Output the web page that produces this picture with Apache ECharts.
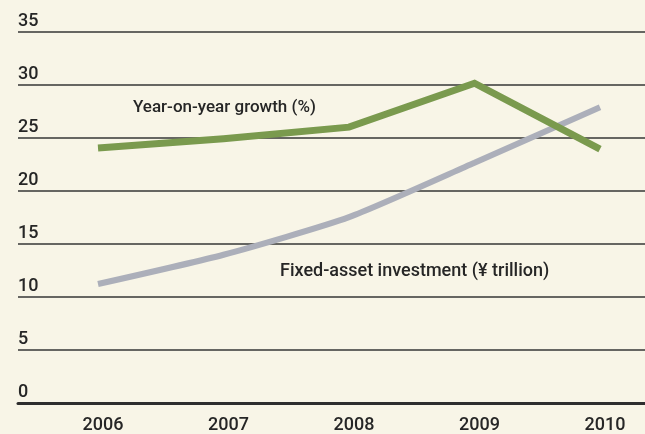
<!DOCTYPE html>
<html>
<head>
<meta charset="utf-8">
<script src="https://cdn.jsdelivr.net/npm/echarts@6/dist/echarts.min.js"></script>
<style>
  html, body { margin: 0; padding: 0; background: #f8f5e7; }
  #chart { width: 645px; height: 434px; }
</style>
</head>
<body>
<div id="chart"></div>
<script>
// Years on the horizontal axis
const years = ['2006', '2007', '2008', '2009', '2010'];
// Year-on-year growth of fixed-asset investment, %
const growthPct = [23.9, 24.8, 25.9, 30.1, 23.8];
// Fixed-asset investment, ¥ trillion
const investment = [10.9, 13.7, 17.3, 22.5, 27.8];
// Value axis ticks
const yMin = 0, yMax = 35, yStep = 5;

const FONT = 'Roboto, "Liberation Sans Narrow", sans-serif';
const TEXT = '#262626';

const chart = echarts.init(document.getElementById('chart'));
chart.setOption({
  backgroundColor: '#f8f5e7',
  animation: false,
  grid: [
    // full-width rules and value labels
    { left: 18, right: 0, top: 32, bottom: 31 },
    // plotting band for the two lines
    { left: 98, right: 45, top: 32, bottom: 31 }
  ],
  xAxis: [
    {
      gridIndex: 0, type: 'category', data: years, boundaryGap: false,
      axisLine: { show: true, lineStyle: { color: '#2e2e2e', width: 3 } },
      axisTick: { show: false }, axisLabel: { show: false }, splitLine: { show: false }
    },
    {
      gridIndex: 1, type: 'category', data: years, boundaryGap: false,
      axisLine: { show: false }, axisTick: { show: false }, splitLine: { show: false },
      axisLabel: {
        margin: 18, color: TEXT, fontFamily: FONT, fontSize: 18, fontWeight: 500,
        padding: [0, 0, 0, 10]
      }
    }
  ],
  yAxis: [
    {
      gridIndex: 0, type: 'value', min: yMin, max: yMax, interval: yStep,
      axisLine: { show: false }, axisTick: { show: false },
      splitLine: { show: true, lineStyle: { color: '#363636', width: 1.6 } },
      axisLabel: {
        inside: true, margin: 0, verticalAlign: 'bottom', padding: [0, 0, 2, 0],
        color: TEXT, fontFamily: FONT, fontSize: 18, fontWeight: 500,
        formatter: v => String(v)
      }
    },
    {
      gridIndex: 1, type: 'value', min: yMin, max: yMax, interval: yStep,
      show: false, splitLine: { show: false }
    }
  ],
  series: [
    {
      name: 'Fixed-asset investment (¥ trillion)', type: 'line',
      xAxisIndex: 1, yAxisIndex: 1, data: investment, smooth: 0.2,
      symbol: 'none', lineStyle: { color: '#acafba', width: 6, cap: 'butt' }
    },
    {
      name: 'Year-on-year growth (%)', type: 'line',
      xAxisIndex: 1, yAxisIndex: 1, data: growthPct,
      symbol: 'none', lineStyle: { color: '#7a9a4e', width: 7, cap: 'butt', join: 'miter' }
    }
  ],
  graphic: [
    {
      type: 'text', left: 133, top: 99,
      style: { text: 'Year-on-year growth (%)', fill: TEXT, font: '500 17px ' + FONT }
    },
    {
      type: 'text', left: 280, top: 262,
      style: { text: 'Fixed-asset investment (¥ trillion)', fill: TEXT, font: '500 18px ' + FONT }
    }
  ]
});
</script>
</body>
</html>
